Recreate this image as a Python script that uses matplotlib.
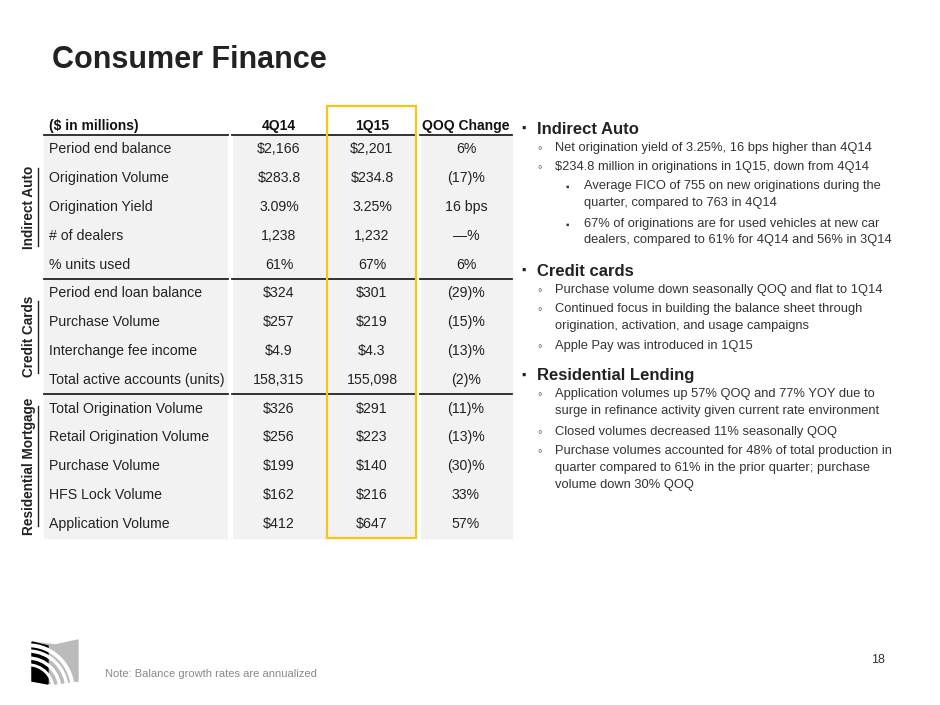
import matplotlib
matplotlib.use("Agg")
import matplotlib.pyplot as plt
from matplotlib.patches import Rectangle, Polygon, Wedge

plt.rcParams['font.family'] = ['Liberation Sans', 'DejaVu Sans']

title = "Consumer Finance"
columns = ["($ in millions)", "4Q14", "1Q15", "QOQ Change"]
row_labels = ["Period end balance", "Origination Volume", "Origination Yield", "# of dealers", "% units used",
              "Period end loan balance", "Purchase Volume", "Interchange fee income", "Total active accounts (units)",
              "Total Origination Volume", "Retail Origination Volume", "Purchase Volume", "HFS Lock Volume", "Application Volume"]
q4_14 = ["$2,166", "$283.8", "3.09%", "1,238", "61%", "$324", "$257", "$4.9", "158,315",
         "$326", "$256", "$199", "$162", "$412"]
q1_15 = ["$2,201", "$234.8", "3.25%", "1,232", "67%", "$301", "$219", "$4.3", "155,098",
         "$291", "$223", "$140", "$216", "$647"]
qoq = ["6%", "(17)%", "16 bps", "—%", "6%", "(29)%", "(15)%", "(13)%", "(2)%",
       "(11)%", "(13)%", "(30)%", "33%", "57%"]
sections = [("Indirect Auto", 0, 5), ("Credit Cards", 5, 9), ("Residential Mortgage", 9, 14)]

bullets = [
    (0, "Indirect Auto"),
    (1, "Net origination yield of 3.25%, 16 bps higher than 4Q14"),
    (1, "$234.8 million in originations in 1Q15, down from 4Q14"),
    (2, "Average FICO of 755 on new originations during the\nquarter, compared to 763 in 4Q14"),
    (2, "67% of originations are for used vehicles at new car\ndealers, compared to 61% for 4Q14 and 56% in 3Q14"),
    (0, "Credit cards"),
    (1, "Purchase volume down seasonally QOQ and flat to 1Q14"),
    (1, "Continued focus in building the balance sheet through\norigination, activation, and usage campaigns"),
    (1, "Apple Pay was introduced in 1Q15"),
    (0, "Residential Lending"),
    (1, "Application volumes up 57% QOQ and 77% YOY due to\nsurge in refinance activity given current rate environment"),
    (1, "Closed volumes decreased 11% seasonally QOQ"),
    (1, "Purchase volumes accounted for 48% of total production in\nquarter compared to 61% in the prior quarter; purchase\nvolume down 30% QOQ"),
]

fig = plt.figure(figsize=(9.4, 7.05), dpi=100)
ax = fig.add_axes([0, 0, 1, 1])
ax.set_xlim(0, 940)
ax.set_ylim(705, 0)
ax.axis('off')

ax.text(52, 60, title, fontsize=22, fontweight='bold', color='#222222', va='center', ha='left')

# table
cols_x = [(44, 228), (232, 326), (328, 416), (420, 512)]
top, step = 135, 28.8
bottom = top + step * len(row_labels)
ax.add_patch(Rectangle((44, top), 468, bottom - top, color='#f2f2f2', zorder=0))
for i, (x0, x1) in enumerate(cols_x):
    ax.plot([x0, x1], [top, top], color='#222222', lw=1.3)
    ha = 'left' if i == 0 else 'center'
    tx = 49 if i == 0 else (x0 + x1) / 2
    ax.text(tx, top - 9, columns[i], fontsize=10, fontweight='bold', ha=ha, va='center', color='#111111')
for x in [230, 418]:
    ax.add_patch(Rectangle((x - 2, top), 4, bottom - top, color='white', zorder=0.5))
for i, lab in enumerate(row_labels):
    y = top + step * (i + 0.5)
    ax.text(49, y, lab, fontsize=10.2, va='center', ha='left', color='#222222')
    for (x0, x1), v in zip(cols_x[1:], [q4_14[i], q1_15[i], qoq[i]]):
        ax.text((x0 + x1) / 2, y, v, fontsize=10.2, va='center', ha='center', color='#222222')
for name, a, b in sections:
    if a > 0:
        yl = top + step * a
        for (x0, x1) in cols_x:
            ax.plot([x0, x1], [yl, yl], color='#222222', lw=1.3)
    yc = top + step * (a + b) / 2
    ax.text(29, yc, name, fontsize=9.8, fontweight='bold', rotation=90, va='center', ha='center', color='#222222')
    h = len(name) * 3.0
    ax.plot([38, 38], [yc - h, yc + h], color='#222222', lw=1)
ax.add_patch(Rectangle((327, 106), 89, bottom - 106, fill=False, ec='#f5c518', lw=1.6, zorder=5))

# bullets
y = 129
for lvl, txt in bullets:
    nl = txt.count('\n') + 1
    if lvl == 0:
        if txt != "Indirect Auto":
            y += 9
        ax.text(521, y, "▪", fontsize=9, va='center', ha='left', color='#222222')
        ax.text(537, y, txt, fontsize=12, fontweight='bold', va='center', ha='left', color='#222222')
        y += 20
    else:
        bx = 537 if lvl == 1 else 566
        mark = "◦" if lvl == 1 else "▪"
        ax.text(bx, y, mark, fontsize=9 if lvl == 1 else 7, va='center', ha='left', color='#333333')
        ax.text(bx + 18, y - 7, txt, fontsize=9.3, va='top', ha='left', color='#333333', linespacing=1.55)
        y += 18.5 * nl + 0.5

ax.text(105, 674, "Note: Balance growth rates are annualized", fontsize=8, color='#888888', va='center')
ax.text(885, 660, "18", fontsize=9, color='#333333', va='center', ha='right')

# logo
ax.add_patch(Polygon([[55, 645], [78, 640], [78, 681], [55, 684], [32, 681], [32, 642]], closed=True,
                     color='#bbbbbb', zorder=1))
ax.add_patch(Polygon([[32, 642], [48, 646], [48, 684], [32, 681]], closed=True, color='black', zorder=2))
for r, w in [(40, 2), (33, 2), (26, 1.5), (46, 2.5)]:
    ax.add_patch(Wedge((28, 690), r, 270, 360, width=w, color='white', zorder=3))

fig.savefig("out.png", dpi=100)
